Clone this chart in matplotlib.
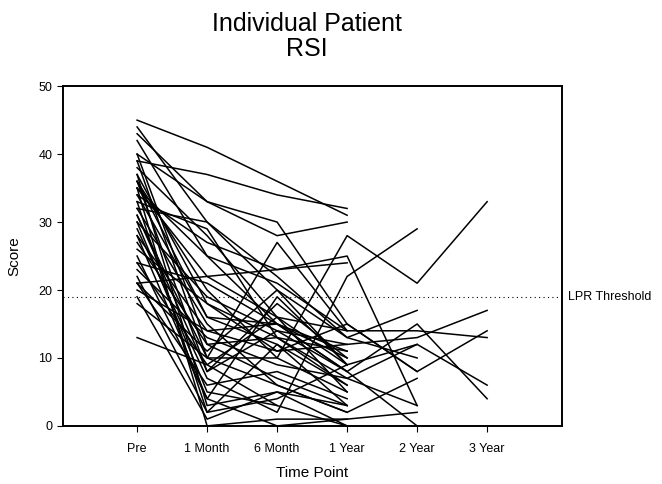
import numpy as np
import matplotlib
matplotlib.use("Agg")
import matplotlib.pyplot as plt

plt.rcParams['font.family'] = ['Liberation Sans', 'DejaVu Sans']

# time points on the x axis
time_points = ["Pre", "1 Month", "6 Month", "1 Year", "2 Year", "3 Year"]
threshold = 19

nan = np.nan
# one value per patient at each time point (nan = not measured)
pre = [45, 44, 43, 42, 40, 40, 39, 39, 38, 37, 37, 36, 36, 36, 35, 35, 34, 34, 33, 32, 32, 31,
       31, 30, 30, 29, 28, 28, 27, 26, 25, 24, 24, 23, 22, 21, 21, 21, 20, 19, 18, 13, 35, 33]
month1 = [41, 30, 33, 25, 33, 12, 37, 10, 28, 3, 18, 20, 8, 16, 0, 22, 16, 27, 2, 30, 15, 10,
          8, 5, 19, 7, 4, 14, 12, 18, 4, 21, 9, 13, 2, 22, 11, 6, 14, 1, 10, 9, 25, 29]
month6 = [36, 20, 28, 15, 30, 7, 34, 10, 16, 5, 13, 10, 14, 15, 1, 16, 12, 23, 4, 22, 6, 27,
          18, 3, 14, 2, 19, 11, 13, 11, 0, 15, 16, 9, 12, 23, 20, 8, 15, 5, 6, 3, 21, 13]
year1 = [31, 9, 30, 8, 15, 3, 32, 5, 9, 0, 7, 28, 12, 11, 1, 14, 6, 25, 9, 13, 2, 14,
         10, 0, 8, 22, 9, 15, 6, 12, 1, 10, 5, 7, 3, 24, 13, 4, 8, 3, 2, nan, 14, 11]
year2 = [nan, nan, nan, nan, 8, nan, nan, nan, 12, nan, 3, 21, nan, nan, 2, 14, nan, 3, nan, 10, 7, nan,
         nan, nan, 15, 29, nan, 8, nan, 13, nan, nan, nan, 12, nan, nan, 17, nan, 0, nan, nan, nan, nan, nan]
year3 = [nan, nan, nan, nan, 14, nan, nan, nan, 6, nan, nan, 33, nan, nan, nan, 13, nan, nan, nan, nan, nan, nan,
         nan, nan, 4, nan, nan, nan, nan, 17, nan, nan, nan, nan, nan, nan, nan, nan, nan, nan, nan, nan, nan, nan]

scores = np.array([pre, month1, month6, year1, year2, year3], dtype=float)
x = np.arange(1, len(time_points) + 1)

fig = plt.figure(figsize=(6.62, 4.84), dpi=100)
ax = fig.add_axes([0.095, 0.12, 0.754, 0.702])

for p in range(scores.shape[1]):
    ax.plot(x, scores[:, p], color="black", linewidth=1.1)

ax.axhline(threshold, color="black", linestyle=(0, (1, 3)), linewidth=0.8)
ax.text(1.012, threshold, "LPR Threshold", transform=ax.get_yaxis_transform(),
        va="center", ha="left", fontsize=9)

ax.set_xlim(-0.06, 7.07)
ax.set_ylim(0, 50)
ax.set_xticks(x)
ax.set_xticklabels(time_points, fontsize=9)
ax.set_yticks(range(0, 51, 10))
ax.tick_params(axis="y", labelsize=9, direction="out", length=4)
ax.tick_params(axis="x", direction="out", length=4, pad=8)
for s in ax.spines.values():
    s.set_linewidth(1.4)

ax.set_xlabel("Time Point", fontsize=11, labelpad=8)
ax.set_ylabel("Score", fontsize=11, labelpad=12)
fig.suptitle("Individual Patient\nRSI", x=0.464, y=0.975, fontsize=18, linespacing=1.05)

fig.savefig("out.png", dpi=100)
